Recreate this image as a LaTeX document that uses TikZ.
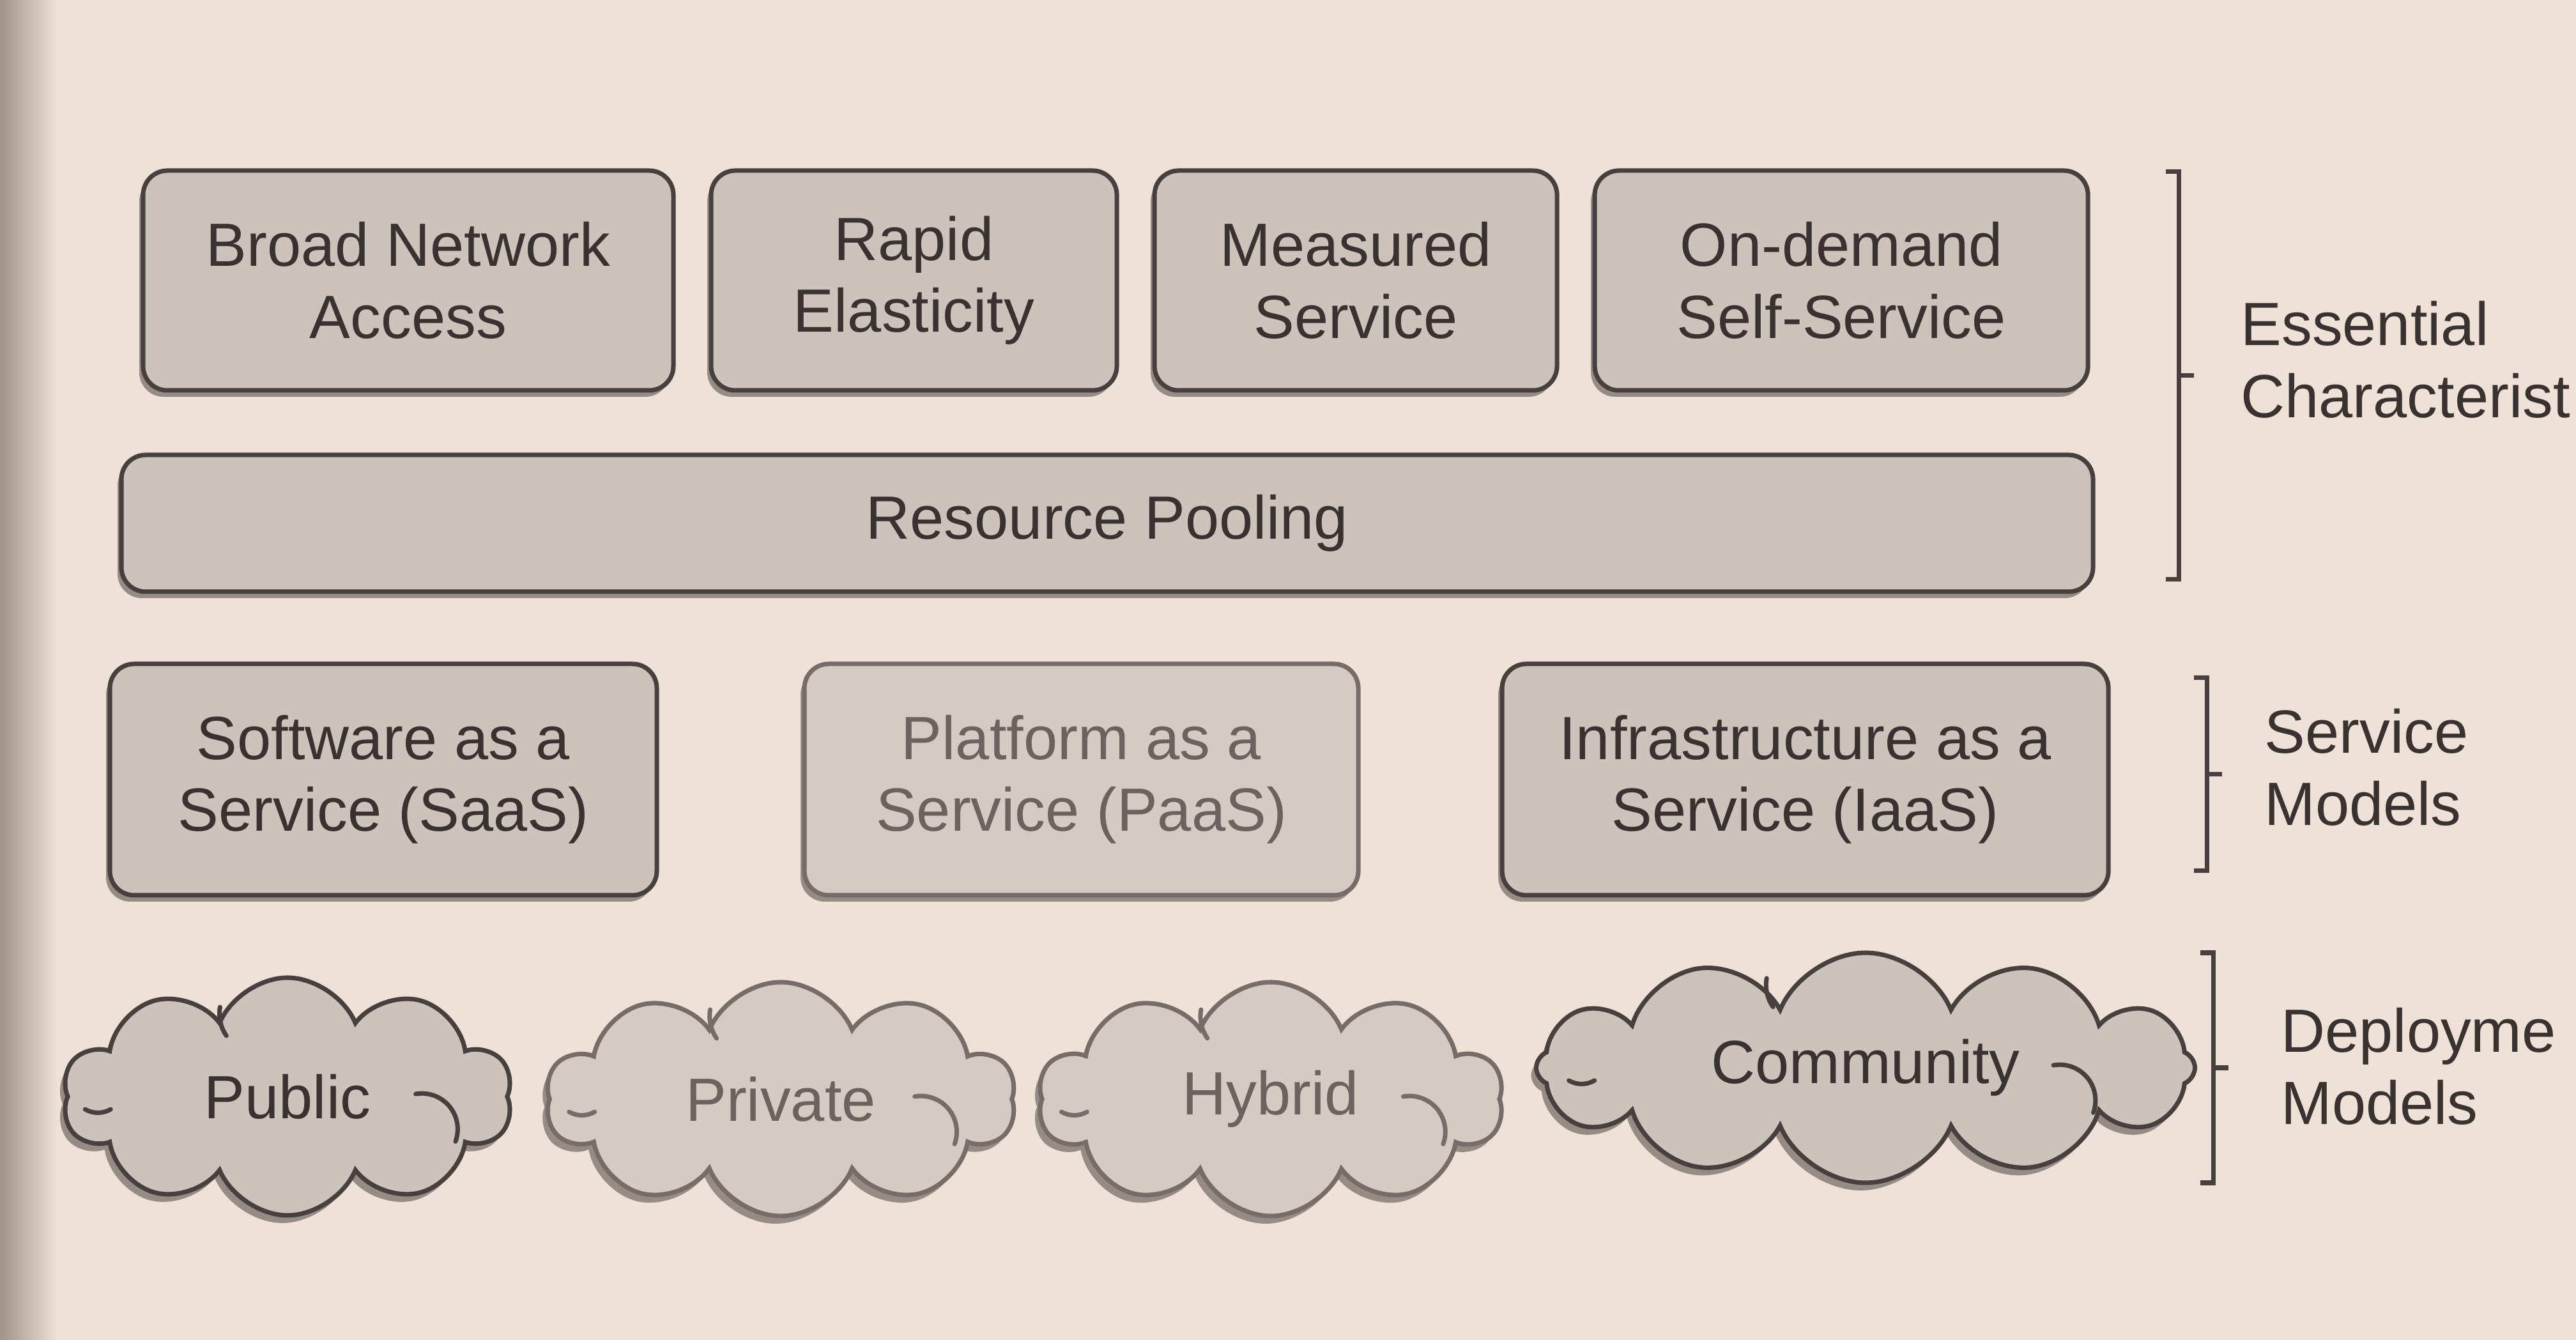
\documentclass[tikz,border=0pt]{standalone}
\usepackage{fontspec}
\setmainfont{Liberation Sans}
\usetikzlibrary{shapes,positioning,calc,shadows}

\definecolor{paper}{RGB}{238,226,215}
\definecolor{gutter}{RGB}{160,146,136}
\definecolor{boxgray}{RGB}{204,195,188}
\definecolor{edgegray}{RGB}{72,64,62}
\definecolor{inkgray}{RGB}{58,50,48}
\definecolor{shadegray}{RGB}{150,140,134}
\definecolor{faintgray}{RGB}{212,203,196}
\definecolor{faintedge}{RGB}{118,109,105}
\definecolor{faintink}{RGB}{108,99,95}

\begin{document}
\begin{tikzpicture}[
    node distance=0.26cm,
    box/.style={rectangle, draw=edgegray, line width=1pt, rounded corners=0.19cm, fill=boxgray, text=inkgray, inner sep=0pt, minimum height=1.72cm, align=center, font=\fontsize{13.6}{16}\selectfont, drop shadow={shadow xshift=-0.03cm, shadow yshift=-0.05cm, fill=shadegray, opacity=1}},
    puff/.style={cloud, cloud puffs=10, cloud puff arc=135, aspect=1.9, draw=edgegray, line width=1pt, fill=boxgray, text=inkgray, inner sep=0pt, font=\fontsize{13.6}{16}\selectfont, drop shadow={shadow xshift=-0.04cm, shadow yshift=-0.06cm, fill=shadegray, opacity=1}},
    faint/.style={draw=faintedge, fill=faintgray, text=faintink},
    bracket/.style={draw=edgegray, line width=1pt},
    curl/.style={line width=1pt, line cap=round},
    side/.style={anchor=west, align=left, inner sep=0pt, text=inkgray, font=\fontsize{13.6}{16}\selectfont}
]
\useasboundingbox (0,0) rectangle (20.16,10.485);
\clip (0,0) rectangle (20.16,10.485);
\fill[paper] (0,0) rectangle (20.16,10.485);
\shade[left color=gutter, right color=paper] (0,0) rectangle (0.45,10.485);

% Essential characteristics (top)
\node[box, minimum width=4.15cm] (broad_access) at (3.195,8.29) {Broad Network\\Access};
\node[box, minimum width=3.175cm, right=of broad_access] (rapid_elastic) {Rapid\\Elasticity};
\node[box, minimum width=3.15cm, right=of rapid_elastic] (measured) {Measured\\Service};
\node[box, minimum width=3.86cm, right=of measured] (on_demand) {On-demand\\Self-Service};
\node[box, minimum width=15.43cm, minimum height=1.07cm] (pooling) at (8.665,6.39) {Resource Pooling};

% Service models (middle)
\node[box, minimum width=4.28cm, minimum height=1.81cm] (saas) at (3.0,4.385) {Software as a\\Service (SaaS)};
\node[box, faint, minimum width=4.335cm, minimum height=1.81cm, right=1.12cm of saas] (paas) {Platform as a\\Service (PaaS)};
\node[box, minimum width=4.745cm, minimum height=1.81cm, right=1.09cm of paas] (iaas) {Infrastructure as a\\Service (IaaS)};

% Deployment models (bottom)
\node[puff, minimum width=3.52cm, minimum height=1.86cm] (public) at (2.25,1.905) {Public};
\node[puff, faint, aspect=2.0, minimum width=3.675cm, minimum height=1.83cm] (private) at (6.11,1.885) {Private};
\node[puff, faint, aspect=2.0, minimum width=3.64cm, minimum height=1.83cm] (hybrid) at (9.945,1.885) {Hybrid};
\node[puff, aspect=2.85, cloud puffs=12, minimum width=5.155cm, minimum height=1.8cm] (community) at (14.6,2.13) {Community};

% curls inside the clouds
\foreach \c/\w/\col in {public/1.76/edgegray, private/1.84/faintedge, hybrid/1.82/faintedge, community/2.58/edgegray} {
  \draw[curl, draw=\col] ($(\c.center)+(0.57*\w,0.02)$) arc[start angle=100, end angle=-20, radius=0.28];
  \draw[curl, draw=\col] ($(\c.center)+(-0.9*\w,-0.1)$) arc[start angle=240, end angle=300, radius=0.2];
  \draw[curl, draw=\col] ($(\c.center)+(-0.3*\w,0.7)$) arc[start angle=170, end angle=215, radius=0.3];
}

% brackets and their labels
\coordinate (ec_top) at (17.05,9.14);
\coordinate (ec_bot) at (17.05,5.95);
\coordinate (sm_top) at (17.27,5.18);
\coordinate (sm_bot) at (17.27,3.67);
\coordinate (dm_top) at (17.32,3.03);
\coordinate (dm_bot) at (17.32,1.23);
\foreach \b in {ec, sm, dm} {
  \draw[bracket] ($(\b_top)+(-0.1,0)$) -- (\b_top) -- (\b_bot) -- ++(-0.1,0);
  \draw[bracket] ($(\b_top)!0.5!(\b_bot)$) -- ++(0.12,0);
}
\node[side] (ec_label) at (17.53,7.67) {Essential\\Characterist};
\node[side] (sm_label) at (17.715,4.48) {Service\\Models};
\node[side] (dm_label) at (17.845,2.14) {Deployme\\Models};

\end{tikzpicture}
\end{document}
